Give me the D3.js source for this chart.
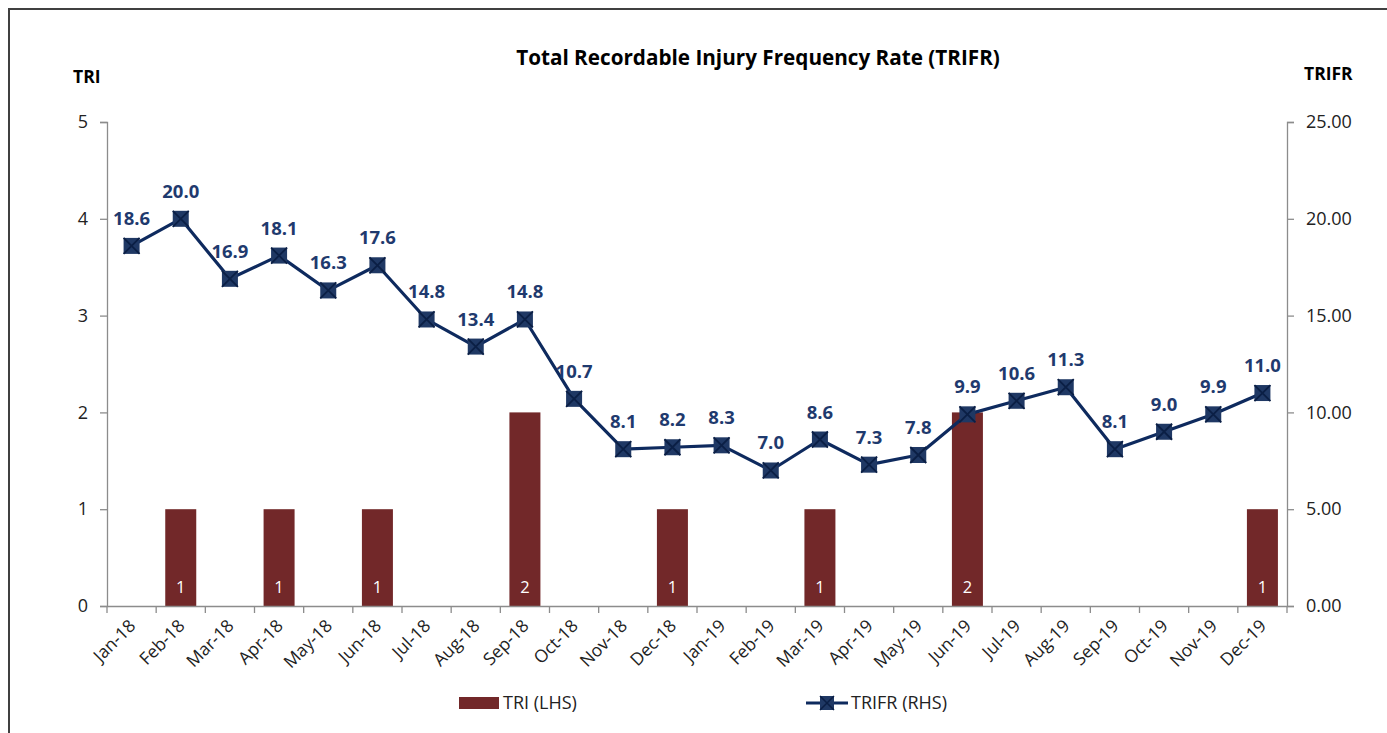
<!DOCTYPE html>
<html><head><meta charset="utf-8">
<script src="https://cdn.jsdelivr.net/npm/d3@7"></script>
<style>body{margin:0;background:#fff;} svg{display:block;}</style>
</head><body><svg id="c" width="1387" height="733"></svg>
<script>
const months = ["Jan-18","Feb-18","Mar-18","Apr-18","May-18","Jun-18","Jul-18","Aug-18","Sep-18","Oct-18","Nov-18","Dec-18","Jan-19","Feb-19","Mar-19","Apr-19","May-19","Jun-19","Jul-19","Aug-19","Sep-19","Oct-19","Nov-19","Dec-19"];
const tri = [0,1,0,1,0,1,0,0,2,0,0,1,0,0,1,0,0,2,0,0,0,0,0,1];
const trifr = [18.6,20.0,16.9,18.1,16.3,17.6,14.8,13.4,14.8,10.7,8.1,8.2,8.3,7.0,8.6,7.3,7.8,9.9,10.6,11.3,8.1,9.0,9.9,11.0];
const leftTicks = [0,1,2,3,4,5];
const rightTicks = [0,5,10,15,20,25];

const font = "'Open Sans', sans-serif";
const svg = d3.select("#c");
svg.append("rect").attr("x",9).attr("y",9).attr("width",1400).attr("height",760)
  .attr("fill","#fff").attr("stroke","#404040").attr("stroke-width",2);

const L=107, R=1287, T=122, B=606;
const x = d3.scaleBand().domain(months).range([L,R]);
const yL = d3.scaleLinear().domain([0,5]).range([B,T]);
const yR = d3.scaleLinear().domain([0,25]).range([B,T]);
const axisColor="#8c8c8c";

svg.append("text").attr("x",758).attr("y",65).attr("text-anchor","middle")
  .attr("font-family",font).attr("font-weight","bold").attr("font-size",20.7).attr("fill","#000")
  .text("Total Recordable Injury Frequency Rate (TRIFR)");
svg.append("text").attr("x",73).attr("y",83).attr("font-family",font).attr("font-weight","bold")
  .attr("font-size",17.5).text("TRI");
svg.append("text").attr("x",1304).attr("y",80).attr("font-family",font).attr("font-weight","bold")
  .attr("font-size",17.5).text("TRIFR");

const gl = svg.append("g").attr("transform",`translate(${L},0)`)
  .call(d3.axisLeft(yL).tickValues(leftTicks).tickFormat(d3.format("d")).tickSize(7).tickPadding(12));
const gr = svg.append("g").attr("transform",`translate(${R},0)`)
  .call(d3.axisRight(yR).tickValues(rightTicks).tickFormat(d3.format(".2f")).tickSize(7).tickPadding(12));
[gl,gr].forEach(g=>{
  g.select(".domain").attr("stroke",axisColor).attr("stroke-width",1.3);
  g.selectAll(".tick line").attr("stroke",axisColor).attr("stroke-width",1.3);
  g.selectAll(".tick text").attr("font-family",font).attr("font-size",18).attr("fill","#222");
});

const bw = 31;
svg.append("g").selectAll("rect").data(months.map((m,i)=>({m,v:tri[i]})).filter(d=>d.v>0))
  .join("rect").attr("x",d=>x(d.m)+x.bandwidth()/2-bw/2).attr("width",bw)
  .attr("y",d=>yL(d.v)).attr("height",d=>B-yL(d.v)).attr("fill","#722829");
svg.append("g").selectAll("text").data(months.map((m,i)=>({m,v:tri[i]})).filter(d=>d.v>0))
  .join("text").attr("x",d=>x(d.m)+x.bandwidth()/2).attr("y",B-13).attr("text-anchor","middle")
  .attr("font-family",font).attr("font-size",16.5).attr("fill","#fff").text(d=>d.v);

const gx = svg.append("g").attr("transform",`translate(0,${B})`)
  .call(d3.axisBottom(x).tickSize(0).tickFormat(""));
gx.select(".domain").attr("stroke",axisColor).attr("stroke-width",1.3);
const bounds = months.map(m=>x(m)).concat([R]);
svg.append("g").selectAll("line").data(bounds).join("line")
  .attr("x1",d=>d).attr("x2",d=>d).attr("y1",B).attr("y2",B+7).attr("stroke",axisColor).attr("stroke-width",1.3);
svg.append("g").selectAll("text").data(months).join("text")
  .attr("transform",d=>`translate(${x(d)+x.bandwidth()/2+5},${B+21}) rotate(-45)`)
  .attr("text-anchor","end").attr("font-family",font).attr("font-size",17.5).attr("fill","#222").text(d=>d);

const cx = i=>x(months[i])+x.bandwidth()/2;
const lineColor="#0e2a5e";
svg.append("path").datum(trifr).attr("fill","none").attr("stroke",lineColor).attr("stroke-width",3.2)
  .attr("stroke-linejoin","round")
  .attr("d",d3.line().x((d,i)=>cx(i)).y(d=>yR(d)));
const ms=16;
const mk = svg.append("g").selectAll("g").data(trifr).join("g")
  .attr("transform",(d,i)=>`translate(${cx(i)},${yR(d)})`);
mk.append("rect").attr("x",-ms/2).attr("y",-ms/2).attr("width",ms).attr("height",ms).attr("fill","#1f3864");
mk.append("path").attr("d",`M${-ms/2},${-ms/2}L${ms/2},${ms/2}M${ms/2},${-ms/2}L${-ms/2},${ms/2}`)
  .attr("stroke","#0b1f45").attr("stroke-width",1.8);
svg.append("g").selectAll("text").data(trifr).join("text")
  .attr("x",(d,i)=>cx(i)).attr("y",d=>yR(d)-21).attr("text-anchor","middle")
  .attr("font-family",font).attr("font-weight","bold").attr("font-size",18.5).attr("fill","#1f3a6e")
  .text(d=>d3.format(".1f")(d));

svg.append("rect").attr("x",459).attr("y",697).attr("width",40).attr("height",12).attr("fill","#722829");
svg.append("text").attr("x",503).attr("y",709).attr("font-family",font).attr("font-size",18).attr("fill","#222").text("TRI (LHS)");
svg.append("line").attr("x1",806).attr("x2",848).attr("y1",703).attr("y2",703).attr("stroke",lineColor).attr("stroke-width",3.2);
const lg = svg.append("g").attr("transform","translate(827,703)");
lg.append("rect").attr("x",-7).attr("y",-7).attr("width",14).attr("height",14).attr("fill","#1f3864");
lg.append("path").attr("d","M-7,-7L7,7M7,-7L-7,7").attr("stroke","#0b1f45").attr("stroke-width",1.5);
svg.append("text").attr("x",851).attr("y",709).attr("font-family",font).attr("font-size",18).attr("fill","#222").text("TRIFR (RHS)");
</script></body></html>
